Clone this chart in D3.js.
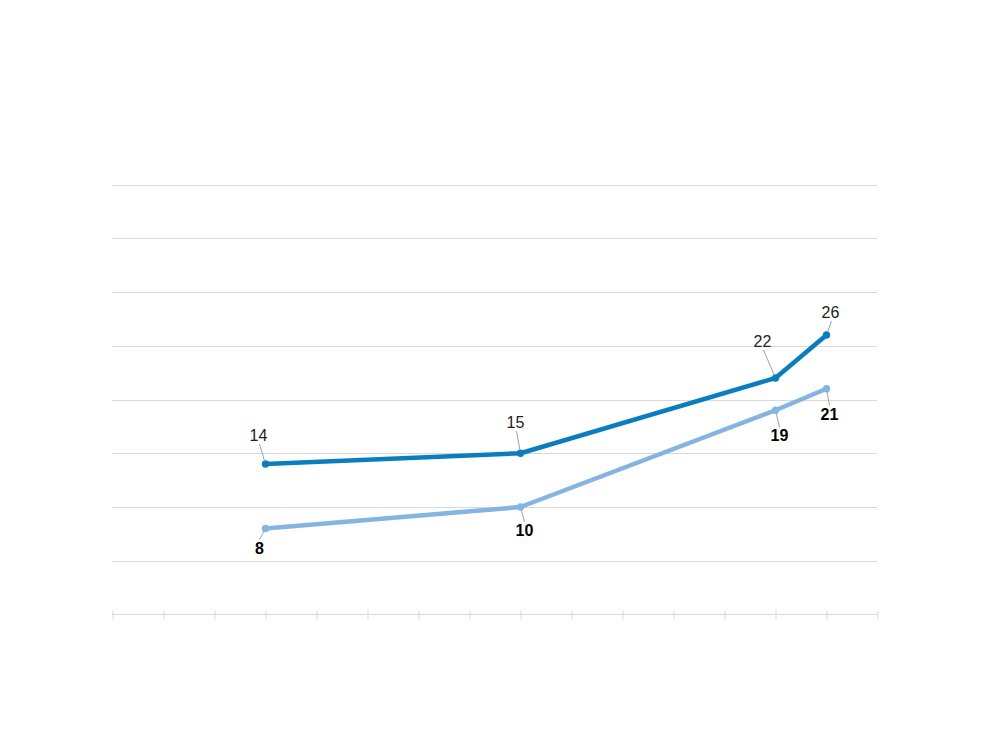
<!DOCTYPE html>
<html><head><meta charset="utf-8">
<script src="https://cdn.jsdelivr.net/npm/d3@7"></script>
<style>body{margin:0;background:#fff}svg{display:block}text{font-family:"Liberation Sans",Arial,sans-serif}</style>
</head><body><svg id="c" width="1000" height="750"></svg>
<script>
const xTicks = [2000,2001,2002,2003,2004,2005,2006,2007,2008,2009,2010,2011,2012,2013,2014,2015];
const years = [2003, 2008, 2013, 2014];
const seriesA = [14, 15, 22, 26];
const seriesB = [8, 10, 19, 21];
const yTicks = [5,10,15,20,25,30,35,40];
// label layout (dx, dy of label baseline relative to point)
const labelOffsetsA = [[-7,-23],[-5,-25],[-13,-31],[4,-17]];
const labelOffsetsB = [[-6,25],[4,29],[4,31],[3,31]];

const svg = d3.select("#c");
const x = d3.scaleLinear().domain([2000,2015]).range([112.5,877.5]);
const y = d3.scaleLinear().domain([0,40]).range([614.5,184.5]);

svg.append("g").selectAll("line").data(yTicks).join("line")
  .attr("x1",112).attr("x2",877).attr("y1",d=>Math.round(y(d))+0.5).attr("y2",d=>Math.round(y(d))+0.5)
  .attr("stroke","#d9d9d9").attr("stroke-width",1);

const xa = svg.append("g").attr("transform","translate(0,614.5)")
  .call(d3.axisBottom(x).tickValues(xTicks).tickSize(5).tickFormat(""));
xa.select(".domain").attr("stroke","#d9d9d9").attr("d","M112,0H878");
xa.selectAll(".tick line").attr("stroke","#d9d9d9").attr("y1",-4).attr("y2",5);

function drawSeries(vals, color, offsets, bold){
  const pts = years.map((yr,i)=>[x(yr), y(vals[i])]);
  svg.append("path").attr("d", d3.line()(pts)).attr("fill","none")
    .attr("stroke",color).attr("stroke-width",4.5).attr("stroke-linejoin","round");
  svg.append("g").selectAll("circle").data(pts).join("circle")
    .attr("cx",d=>d[0]).attr("cy",d=>d[1]).attr("r",3.7).attr("fill",color);
  pts.forEach((p,i)=>{
    const [dx,dy] = offsets[i];
    const lx = p[0]+dx, ly = p[1]+dy;
    const above = dy < 0;
    const ex = lx + (above ? 1 : 0), ey = above ? ly+3 : ly-14;
    const len = Math.hypot(ex-p[0], ey-p[1]);
    const ux=(ex-p[0])/len, uy=(ey-p[1])/len;
    svg.append("line").attr("x1",p[0]+ux*3).attr("y1",p[1]+uy*3).attr("x2",ex).attr("y2",ey)
      .attr("stroke","#a0a0a0").attr("stroke-width",1);
    svg.append("text").attr("x",lx).attr("y",ly).attr("text-anchor","middle")
      .attr("font-size",16).attr("font-weight",bold?"bold":"normal")
      .attr("fill",bold?"#000":"#222").text(vals[i]);
  });
}
drawSeries(seriesB, "#86b4e2", labelOffsetsB, true);
drawSeries(seriesA, "#0a7dbf", labelOffsetsA, false);
</script></body></html>
